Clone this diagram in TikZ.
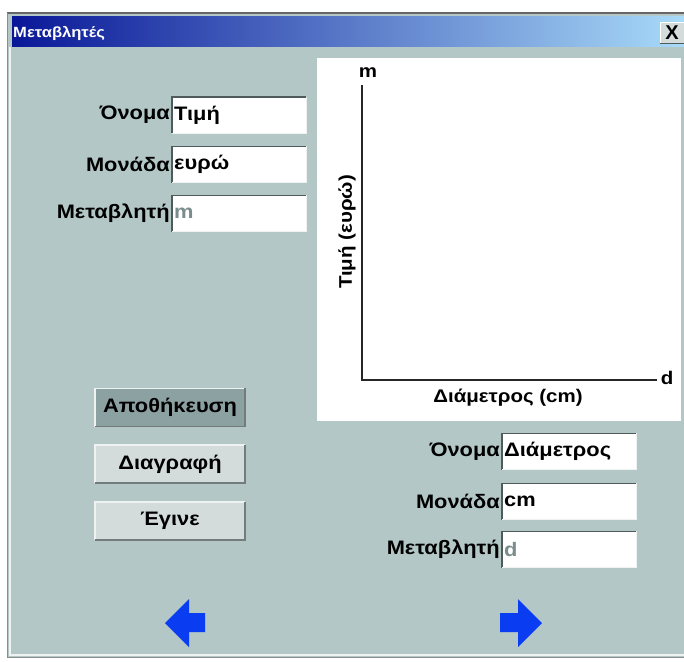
\documentclass[tikz,border=0pt]{standalone}
\usepackage{fontspec}
\setmainfont{Liberation Sans}
\newfontfamily\guiface[FakeStretch=1.12]{Liberation Sans}
\usepackage{tikz}
\usetikzlibrary{positioning}
\definecolor{winbg}{HTML}{B3C7C7}
\definecolor{btnbg}{HTML}{D3DCDA}
\definecolor{btndark}{HTML}{8CA1A1}
\definecolor{shade1}{HTML}{4F5B5B}
\definecolor{hilite}{HTML}{EEF3F1}
\definecolor{dimtext}{HTML}{7A8C8C}
\definecolor{arrowblue}{HTML}{0A3CF2}
\definecolor{titledark}{HTML}{0A1898}
\definecolor{titlemid}{HTML}{2E62E0}
\definecolor{titlelight}{HTML}{A8DAF8}
\newcommand{\guifont}{\guiface\fontsize{19.5}{21}\selectfont\bfseries}
\tikzstyle{lbl}=[font=\guifont, inner sep=1pt]
\tikzstyle{axislbl}=[font=\guiface\fontsize{18.3}{20}\selectfont\bfseries, inner sep=1pt]
\tikzstyle{field}=[fill=white, minimum height=36, text width=130, inner xsep=2, align=left, font=\guifont, anchor=west]
\tikzstyle{button}=[fill=btnbg, minimum width=150, minimum height=38, font=\guifont]
\tikzstyle{axis}=[line width=2pt, draw=black!85]

\begin{document}
\begin{tikzpicture}[x=1pt, y=-1pt]
        \useasboundingbox (0,0) rectangle (684,661);
        \fill[white] (0,0) rectangle (684,661);
        % window
        \fill[winbg] (8,13) rectangle (684,657);
        \draw[line width=2pt, black!60] (7,13) -- (684,13);
        \draw[line width=1.5pt, hilite] (10,47) -- (10,655) -- (684,655);
        \draw[line width=1pt, black!45] (7,13) -- (7,657) -- (684,657);
        \shade[left color=titledark, middle color=titlemid, right color=titlelight] (12,17) rectangle (684,47);
        \node[font=\guiface\fontsize{14.8}{17}\selectfont\bfseries, text=white, anchor=west, inner sep=0pt] (ttl) at (13,33) {Μεταβλητές};
        \node[fill=btnbg, minimum width=24, minimum height=21, inner sep=0pt, font=\fontsize{20}{20}\selectfont\bfseries] (cls) at (672,32.5) {X};
        \draw[shade1] (cls.south west) -- (cls.south east) -- (cls.north east);
        \draw[white] (cls.south west) -- (cls.north west) -- (cls.north east);
        % plot
        \fill[white] (317,58) rectangle (681,421);
        \coordinate (o) at (362,380);
        \coordinate (ytop) at (362,85);
        \coordinate (xend) at (657,380);
        \draw[axis] (ytop) -- (o) -- (xend);
        \node[axislbl] (m) at (368,73) {m};
        \node[axislbl] (d) at (667,378) {d};
        \node[axislbl] (xl) at (508,398) {Διάμετρος (cm)};
        \node[axislbl, rotate=90] (yl) at (347,232) {Τιμή (ευρώ)};
        % left fields
        \node[field] (f1) at (172,115) {Τιμή};
        \node[field] (f2) at (172,164.5) {ευρώ};
        \node[field, text=dimtext] (f3) at (172,213.5) {m};
        \node[lbl, left=1pt of f1] (l1) {Όνομα};
        \node[lbl, left=1pt of f2] (l2) {Μονάδα};
        \node[lbl, left=1pt of f3] (l3) {Μεταβλητή};
        % right fields
        \node[field] (g1) at (502,451.5) {Διάμετρος};
        \node[field] (g2) at (502,501.5) {cm};
        \node[field, text=dimtext] (g3) at (502,549.5) {d};
        \node[lbl, left=1pt of g1] (k1) {Όνομα};
        \node[lbl, left=1pt of g2] (k2) {Μονάδα};
        \node[lbl, left=1pt of g3] (k3) {Μεταβλητή};
        \foreach \b in {f1,f2,f3,g1,g2,g3} {
          \draw[line width=1.5pt, shade1] (\b.south west) -- (\b.north west) -- (\b.north east);
          \draw[line width=1pt, hilite] (\b.south west) -- (\b.south east) -- (\b.north east);
        }
        % buttons
        \node[button, fill=btndark] (b1) at (170,407.5) {Αποθήκευση};
        \node[button] (b2) at (170,464) {Διαγραφή};
        \node[button] (b3) at (170,521) {Έγινε};
        \foreach \b in {b1,b2,b3} {
          \draw[line width=1.5pt, hilite] (\b.south west) -- (\b.north west) -- (\b.north east);
          \draw[line width=1.5pt, shade1!80] (\b.south west) -- (\b.south east) -- (\b.north east);
        }
        % arrows
        \fill[arrowblue] (165,623) -- (189,599) -- (189,613) -- (205,613) -- (205,632) -- (189,632) -- (189,647) -- cycle;
        \fill[arrowblue] (542,623) -- (518,599) -- (518,613) -- (500,613) -- (500,632) -- (518,632) -- (518,647) -- cycle;
    \end{tikzpicture}
\end{document}
